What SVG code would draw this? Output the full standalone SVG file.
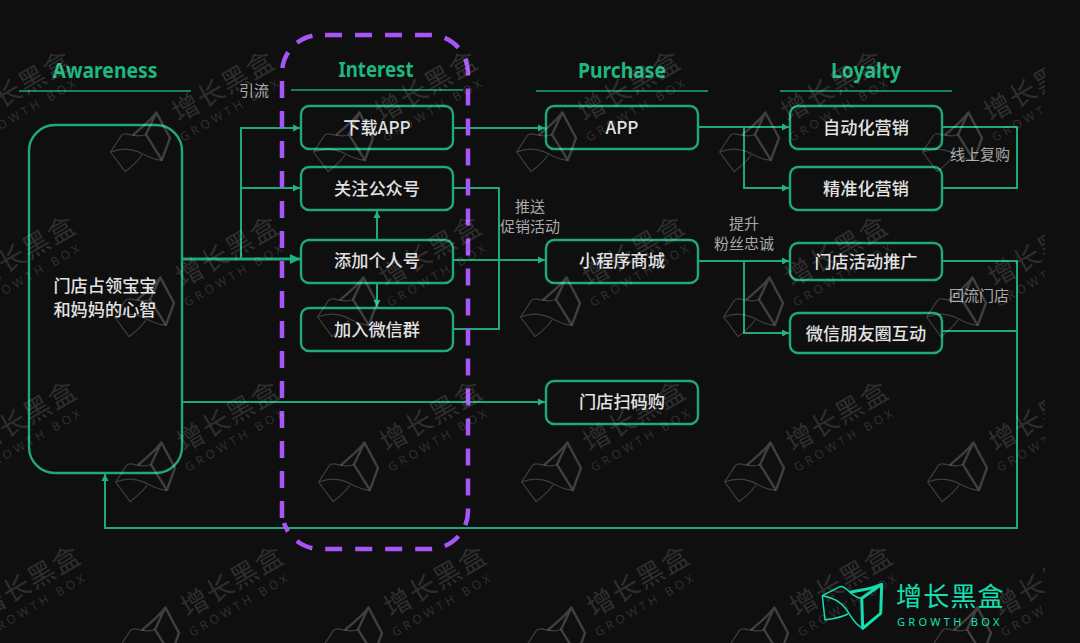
<svg xmlns="http://www.w3.org/2000/svg" width="1080" height="643" viewBox="0 0 1080 643">
<style>
.n{fill:none;stroke:#1fa97a;stroke-width:2.400}
.t{font-family:"Noto Sans CJK SC","Noto Sans",sans-serif;font-size:17.200px;font-weight:500;fill:#e2e2e2;text-anchor:middle}
.l{font-family:"Noto Sans CJK SC","Noto Sans",sans-serif;font-size:15px;fill:#a9a9a9;text-anchor:middle}
.h{font-family:"Noto Sans","Noto Sans CJK SC",sans-serif;font-size:22px;font-weight:700;fill:#1db77f;text-anchor:middle}
.c{fill:none;stroke:#1fa97a;stroke-width:2}
.hl{stroke:#1fa97a;stroke-width:1.600}
.f{fill:none;stroke:#a855f7;stroke-width:4.500;stroke-dasharray:17 13}
.wt{font-family:"Noto Sans CJK SC",sans-serif;font-size:27px;fill:#fff;fill-opacity:.15}
.wg{font-family:"Noto Sans",sans-serif;font-size:12px;letter-spacing:3.600px;fill:#fff;fill-opacity:.14}
.wl{fill:none;stroke:#fff;stroke-opacity:.2;stroke-linejoin:round}
.br{fill:none;stroke:#12e0b0;stroke-linejoin:round}
</style>
<defs>
<marker id="a" markerUnits="userSpaceOnUse" markerWidth="9" markerHeight="9" refX="8" refY="4.500" orient="auto"><path d="M1 1L8 4.500L1 8Z" fill="#1fb582"/></marker>
<marker id="b" markerUnits="userSpaceOnUse" markerWidth="12" markerHeight="12" refX="11" refY="6" orient="auto"><path d="M1 1L11 6L1 11Z" fill="#1fb582"/></marker>
<path id="logo-thin" d="M0.300 11.700L18 2.700C22 1.500 25 6 28 8.300C32 12 36 14 39.700 14.300M40.700 44.300C32 40 28 30 24 25C18 17 9 13 0.300 11.700L3 36C10 35 18 34 26 30"/>
<path id="logo-box" d="M39.700 14.300L59.700 0.300L58.700 29.300L40.700 44.300ZM28 8.300C38 6 50 5 59.700 0.300"/>
<clipPath id="wc"><rect width="1045" height="643"/></clipPath>
<g id="wm">
<g transform="translate(1 0) rotate(-30)"><use href="#logo-thin" class="wl" stroke-width="1.200"/><use href="#logo-box" class="wl" stroke-width="2.400"/></g>
<text class="wt" transform="translate(75.500 -19) rotate(-30)" letter-spacing="1.500">增长黑盒</text>
<text class="wg" transform="translate(79.500 0) rotate(-30)">GROWTH BOX</text>
</g>
</defs>
<rect width="1080" height="643" fill="#0f0f10"/>
<g id="headers">
<text class="h" x="105" y="78" textLength="105" lengthAdjust="spacingAndGlyphs">Awareness</text><line class="hl" x1="19" y1="91" x2="191" y2="91"/>
<text class="h" x="376" y="77" textLength="75" lengthAdjust="spacingAndGlyphs">Interest</text><line class="hl" x1="291" y1="90" x2="463" y2="90"/>
<text class="h" x="622" y="78" textLength="88" lengthAdjust="spacingAndGlyphs">Purchase</text><line class="hl" x1="536" y1="91" x2="708" y2="91"/>
<text class="h" x="866" y="78" textLength="70" lengthAdjust="spacingAndGlyphs">Loyalty</text><line class="hl" x1="780" y1="91" x2="952" y2="91"/>
</g>
<g id="connectors">
<path class="c" d="M241 259V128H300" marker-end="url(#a)"/>
<path class="c" d="M241 188H300" marker-end="url(#a)"/>
<path class="c" d="M182 259H300" style="stroke-width:3.200" marker-end="url(#b)"/>
<path class="c" d="M377 240V211" marker-end="url(#a)"/>
<path class="c" d="M377 283V307" marker-end="url(#a)"/>
<path class="c" d="M453 128H545" marker-end="url(#a)"/>
<path class="c" d="M453 188H499V329H453"/>
<path class="c" d="M453 260H545" marker-end="url(#a)"/>
<path class="c" d="M182 402H545" marker-end="url(#a)"/>
<path class="c" d="M698 127H789" marker-end="url(#a)"/>
<path class="c" d="M744 127V188H789" marker-end="url(#a)"/>
<path class="c" d="M698 261H789" marker-end="url(#a)"/>
<path class="c" d="M744 261V333H789" marker-end="url(#a)"/>
<path class="c" d="M942 127H1017V188H942"/>
<path class="c" d="M942 261H1017V528H105V474" marker-end="url(#a)"/>
<path class="c" d="M942 331H1017"/>
</g>
<g id="awareness"><rect class="n" x="29" y="125" width="153" height="348" rx="26"/><text class="t" x="105" y="292">门店占领宝宝</text><text class="t" x="105" y="316">和妈妈的心智</text></g>
<g id="i1"><rect class="n" x="301" y="106" width="152" height="43" rx="8"/><text class="t" x="377" y="134">下载APP</text></g>
<g id="i2"><rect class="n" x="301" y="167" width="152" height="43" rx="8"/><text class="t" x="377" y="195">关注公众号</text></g>
<g id="i3"><rect class="n" x="301" y="240" width="152" height="43" rx="8"/><text class="t" x="377" y="267">添加个人号</text></g>
<g id="i4"><rect class="n" x="301" y="308" width="152" height="43" rx="8"/><text class="t" x="377" y="336">加入微信群</text></g>
<g id="p1"><rect class="n" x="546" y="106" width="152" height="43" rx="8"/><text class="t" x="622" y="134">APP</text></g>
<g id="p2"><rect class="n" x="546" y="240" width="152" height="43" rx="8"/><text class="t" x="622" y="267">小程序商城</text></g>
<g id="p3"><rect class="n" x="546" y="381" width="152" height="43" rx="8"/><text class="t" x="622" y="408">门店扫码购</text></g>
<g id="l1"><rect class="n" x="790" y="106" width="152" height="43" rx="8"/><text class="t" x="866" y="134">自动化营销</text></g>
<g id="l2"><rect class="n" x="790" y="167" width="152" height="43" rx="8"/><text class="t" x="866" y="195">精准化营销</text></g>
<g id="l3"><rect class="n" x="790" y="243" width="152" height="37" rx="8"/><text class="t" x="866" y="268">门店活动推广</text></g>
<g id="l4"><rect class="n" x="790" y="313" width="152" height="40" rx="8"/><text class="t" x="866" y="340">微信朋友圈互动</text></g>
<g id="labels">
<text class="l" x="254" y="96">引流</text>
<text class="l" x="530" y="212">推送</text><text class="l" x="530" y="232">促销活动</text>
<text class="l" x="744" y="229">提升</text><text class="l" x="744" y="249">粉丝忠诚</text>
<text class="l" x="980" y="160">线上复购</text>
<text class="l" x="979" y="301">回流门店</text>
</g>
<g id="interest-frame">
<path class="f" stroke-dashoffset="25" d="M320 35H430A38 38 0 0 1 468 73V511A38 38 0 0 1 430 549H320A38 38 0 0 1 284 523"/>
<path class="f" d="M282 518V73A38 38 0 0 1 320 35"/>
</g>
<g id="watermarks" clip-path="url(#wc)">
<use href="#wm" x="-99.500" y="142"/><use href="#wm" x="103.500" y="142"/><use href="#wm" x="306.500" y="142"/><use href="#wm" x="509.500" y="142"/><use href="#wm" x="712.500" y="142"/><use href="#wm" x="915.500" y="142"/>
<use href="#wm" x="-95.500" y="307"/><use href="#wm" x="107.500" y="307"/><use href="#wm" x="310.500" y="307"/><use href="#wm" x="513.500" y="307"/><use href="#wm" x="716.500" y="307"/><use href="#wm" x="919.500" y="307"/>
<use href="#wm" x="-94.500" y="472"/><use href="#wm" x="108.500" y="472"/><use href="#wm" x="311.500" y="472"/><use href="#wm" x="514.500" y="472"/><use href="#wm" x="717.500" y="472"/><use href="#wm" x="920.500" y="472"/>
<use href="#wm" x="-90.500" y="637"/><use href="#wm" x="112.500" y="637"/><use href="#wm" x="315.500" y="637"/><use href="#wm" x="518.500" y="637"/><use href="#wm" x="721.500" y="637"/><use href="#wm" x="924.500" y="637"/>
</g>
<g id="brand">
<use href="#logo-thin" x="822" y="584" class="br" stroke-width="1.500"/>
<use href="#logo-box" x="822" y="584" class="br" stroke-width="3"/>
<text x="896" y="606" font-family="Noto Sans CJK SC,sans-serif" font-size="26" letter-spacing="1.200" fill="#12e0b0">增长黑盒</text>
<text x="897" y="626" font-family="Noto Sans,sans-serif" font-size="11" letter-spacing="3.300" fill="#12e0b0">GROWTH BOX</text>
</g>
</svg>
